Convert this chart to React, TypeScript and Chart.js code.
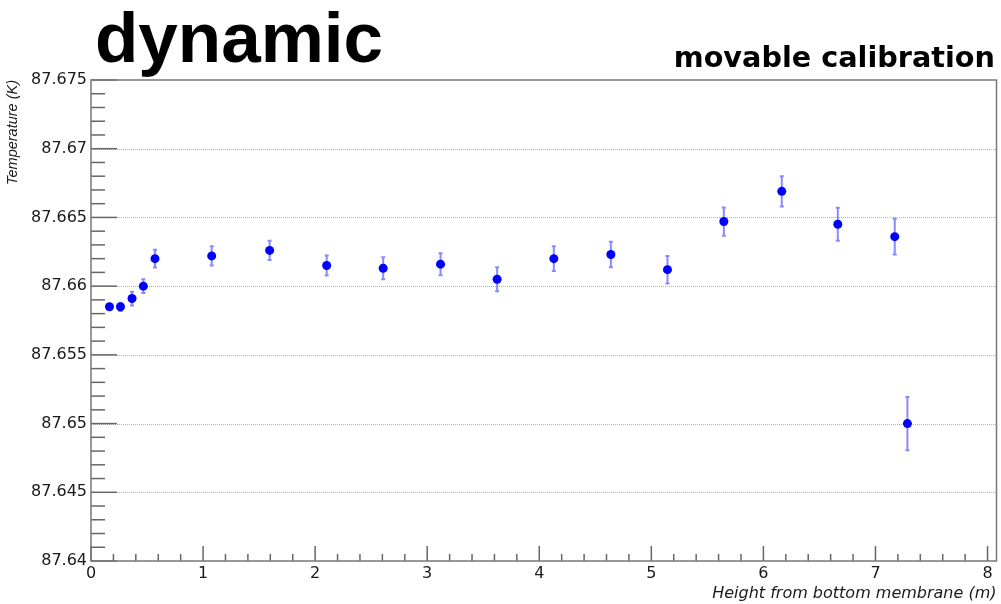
import React, { useEffect, useRef } from "react";
import { Chart, registerables } from "chart.js";

Chart.register(...registerables);

// Height from bottom membrane (m)
const xValues = [0.165, 0.263, 0.366, 0.467, 0.571, 1.077, 1.594, 2.103, 2.607, 3.119, 3.624, 4.13, 4.639, 5.144, 5.647, 6.164, 6.664, 7.172, 7.285];
// Temperature (K)
const yValues = [87.6585, 87.6585, 87.6591, 87.66, 87.662, 87.6622, 87.6626, 87.6615, 87.6613, 87.6616, 87.6605, 87.662, 87.6623, 87.6612, 87.6647, 87.6669, 87.6645, 87.6636, 87.65];
// Symmetric errors on temperature (K)
const yErrors = [0.0001, 0.0003, 0.0005, 0.0005, 0.00065, 0.0007, 0.0007, 0.00073, 0.0008, 0.0008, 0.00087, 0.0009, 0.00093, 0.001, 0.00103, 0.0011, 0.0012, 0.0013, 0.00194];

const xMin = 0;
const xMax = 8.08;
const xStep = 1;
const yMin = 87.64;
const yMax = 87.675;
const yStep = 0.005;
const minorDivisions = 5;

const titleMain = "dynamic";
const titleRight = "movable calibration";
const xTitle = "Height from bottom membrane (m)";
const yTitle = "Temperature (K)";

const AXIS_COLOR = "#666";
const TEXT_COLOR = "#1a1a1a";

const framePlugin = {
  id: "rootFrame",
  beforeDatasetsDraw(chart: any) {
    const { ctx, chartArea } = chart;
    const ys = chart.scales.y;
    ctx.save();
    // dotted horizontal grid lines at inner major y ticks
    ctx.strokeStyle = "#b0b0b0";
    ctx.lineWidth = 1;
    ctx.setLineDash([1, 1]);
    ys.ticks.forEach((t: any) => {
      if (t.value <= yMin + 1e-9 || t.value >= yMax - 1e-9) return;
      const py = Math.round(ys.getPixelForValue(t.value)) + 0.5;
      ctx.beginPath();
      ctx.moveTo(chartArea.left, py);
      ctx.lineTo(chartArea.right, py);
      ctx.stroke();
    });
    ctx.restore();
  },
  afterDatasetsDraw(chart: any) {
    const { ctx, chartArea } = chart;
    const xs = chart.scales.x;
    const ys = chart.scales.y;
    ctx.save();
    ctx.strokeStyle = AXIS_COLOR;
    ctx.lineWidth = 1.5;
    ctx.setLineDash([]);
    // y ticks (left)
    const yt = ys.ticks.map((t: any) => t.value);
    for (let i = 0; i < yt.length; i++) {
      const py = ys.getPixelForValue(yt[i]);
      ctx.beginPath();
      ctx.moveTo(chartArea.left, py);
      ctx.lineTo(chartArea.left + 26, py);
      ctx.stroke();
      if (i < yt.length - 1) {
        for (let k = 1; k < minorDivisions; k++) {
          const v = yt[i] + ((yt[i + 1] - yt[i]) * k) / minorDivisions;
          const pm = ys.getPixelForValue(v);
          ctx.beginPath();
          ctx.moveTo(chartArea.left, pm);
          ctx.lineTo(chartArea.left + 14, pm);
          ctx.stroke();
        }
      }
    }
    // x ticks (bottom)
    const xt = xs.ticks.map((t: any) => t.value);
    for (let i = 0; i < xt.length; i++) {
      const px = xs.getPixelForValue(xt[i]);
      ctx.beginPath();
      ctx.moveTo(px, chartArea.bottom);
      ctx.lineTo(px, chartArea.bottom - 15);
      ctx.stroke();
      if (i < xt.length - 1) {
        for (let k = 1; k < minorDivisions; k++) {
          const v = xt[i] + ((xt[i + 1] - xt[i]) * k) / minorDivisions;
          const pm = xs.getPixelForValue(v);
          ctx.beginPath();
          ctx.moveTo(pm, chartArea.bottom);
          ctx.lineTo(pm, chartArea.bottom - 7);
          ctx.stroke();
        }
      }
    }
    // frame
    ctx.strokeStyle = "#777";
    ctx.lineWidth = 1.5;
    ctx.strokeRect(chartArea.left, chartArea.top, chartArea.right - chartArea.left, chartArea.bottom - chartArea.top);
    ctx.restore();
  },
};

const errorBarPlugin = {
  id: "errorBars",
  beforeDatasetsDraw(chart: any) {
    const { ctx } = chart;
    const xs = chart.scales.x;
    const ys = chart.scales.y;
    ctx.save();
    ctx.strokeStyle = "rgba(60,60,255,0.6)";
    ctx.lineWidth = 2;
    for (let i = 0; i < xValues.length; i++) {
      const px = xs.getPixelForValue(xValues[i]);
      const top = ys.getPixelForValue(yValues[i] + yErrors[i]);
      const bot = ys.getPixelForValue(yValues[i] - yErrors[i]);
      ctx.beginPath();
      ctx.moveTo(px, top);
      ctx.lineTo(px, bot);
      ctx.moveTo(px - 2, top);
      ctx.lineTo(px + 2, top);
      ctx.moveTo(px - 2, bot);
      ctx.lineTo(px + 2, bot);
      ctx.stroke();
    }
    ctx.restore();
  },
};

export default function App() {
  const canvasRef = useRef<HTMLCanvasElement | null>(null);

  useEffect(() => {
    if (!canvasRef.current) return;
    const chart = new Chart(canvasRef.current, {
      type: "scatter",
      data: {
        datasets: [
          {
            label: "Temperature",
            data: xValues.map((x, i) => ({ x, y: yValues[i] })),
            backgroundColor: "#0000ff",
            borderColor: "#0000ff",
            borderWidth: 0,
            pointRadius: 4.5,
            showLine: false,
          },
        ],
      },
      options: {
        animation: false,
        responsive: false,
        maintainAspectRatio: false,
        layout: { padding: { left: 0, top: 80, right: 4, bottom: 0 } },
        plugins: {
          legend: { display: false },
          tooltip: { enabled: false },
        },
        scales: {
          x: {
            type: "linear",
            min: xMin,
            max: xMax,
            grid: { display: false, drawTicks: false },
            border: { display: false },
            ticks: {
              stepSize: xStep,
              includeBounds: false,
              autoSkip: false,
              maxRotation: 0,
              padding: 3,
              color: TEXT_COLOR,
              font: { family: "DejaVu Sans", size: 16 },
            },
            title: {
              display: true,
              text: xTitle,
              align: "end",
              color: TEXT_COLOR,
              font: { family: "DejaVu Sans", size: 16, style: "italic" },
              padding: { top: 0, bottom: 1 },
            },
            afterFit: (s: any) => {
              s.height = 43;
            },
          },
          y: {
            type: "linear",
            min: yMin,
            max: yMax,
            grid: { display: false, drawTicks: false },
            border: { display: false },
            ticks: {
              stepSize: yStep,
              autoSkip: false,
              padding: 4,
              color: TEXT_COLOR,
              font: { family: "DejaVu Sans", size: 16 },
              callback: (v: any) => String(parseFloat(Number(v).toFixed(4))),
            },
            title: {
              display: true,
              text: yTitle,
              align: "end",
              color: TEXT_COLOR,
              font: { family: "Liberation Sans", size: 14.5, style: "italic" },
              padding: { top: 4, bottom: 0 },
            },
            afterFit: (s: any) => {
              s.width = 91;
            },
          },
        },
      },
      plugins: [framePlugin, errorBarPlugin],
    } as any);
    return () => chart.destroy();
  }, []);

  return (
    <div style={{ position: "absolute", left: 0, top: 0, width: 1001, height: 604, background: "#fff" }}>
      <canvas ref={canvasRef} width={1001} height={604} style={{ width: 1001, height: 604, display: "block" }} />
      <div
        style={{
          position: "absolute",
          left: 95,
          top: 2,
          fontFamily: "'Liberation Sans', Arial, sans-serif",
          fontWeight: "bold",
          fontSize: 71,
          lineHeight: "71px",
          color: "#000",
          whiteSpace: "nowrap",
        }}
      >
        {titleMain}
      </div>
      <div
        style={{
          position: "absolute",
          right: 6,
          top: 43,
          fontFamily: "'DejaVu Sans', sans-serif",
          fontWeight: "bold",
          fontSize: 28.7,
          lineHeight: "28.7px",
          color: "#000",
          whiteSpace: "nowrap",
        }}
      >
        {titleRight}
      </div>
    </div>
  );
}
